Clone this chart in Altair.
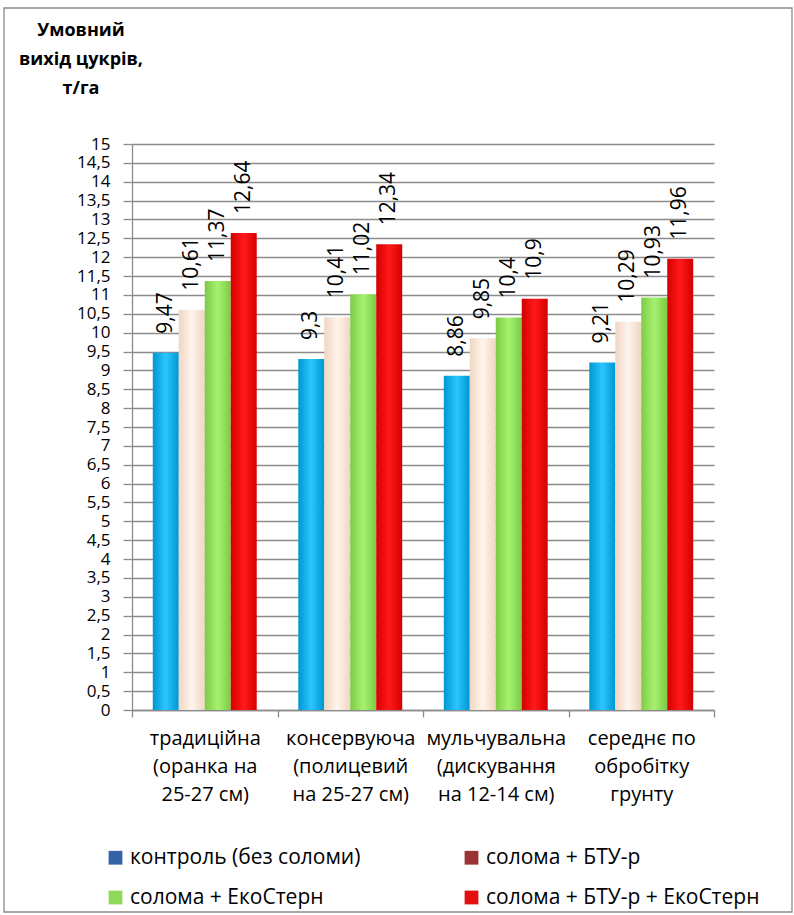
import altair as alt
import pandas as pd

# Tillage systems (x-axis groups), one list of label lines each
categories = [
    ["традиційна", "(оранка на", "25-27 см)"],
    ["консервуюча", "(полицевий", "на 25-27 см)"],
    ["мульчувальна", "(дискування", "на 12-14 см)"],
    ["середнє по", "обробітку", "грунту"],
]

series = [
    "контроль (без соломи)",
    "солома + БТУ-р",
    "солома + ЕкоСтерн",
    "солома + БТУ-р + ЕкоСтерн",
]

# Conditional sugar yield, t/ha
control = [9.47, 9.30, 8.86, 9.21]
straw_btu = [10.61, 10.41, 9.85, 10.29]
straw_eko = [11.37, 11.02, 10.40, 10.93]
straw_btu_eko = [12.64, 12.34, 10.90, 11.96]

y_ticks = [i / 2 for i in range(31)]

cat_keys = ["|".join(c) for c in categories]
rows = []
for s, vals in zip(series, [control, straw_btu, straw_eko, straw_btu_eko]):
    for c, v in zip(cat_keys, vals):
        rows.append({"cat": c, "series": s, "value": v})
df = pd.DataFrame(rows)

# Bar fills (cylinder-like horizontal gradients) and legend swatch colours
bar_stops = {
    series[0]: ["#0096D2", "#2CC6FF", "#0096D2"],
    series[1]: ["#EFD6C2", "#FFF4EC", "#EFD6C2"],
    series[2]: ["#7CCB44", "#A6F270", "#7CCB44"],
    series[3]: ["#D40000", "#FF1A1A", "#D40000"],
}
legend_colors = ["#3563A8", "#9A3434", "#8FD85A", "#E31010"]

W, H = 582, 566
PAD_L, PAD_T = 132, 144

x_enc = alt.X(
    "cat:N",
    sort=cat_keys,
    scale=alt.Scale(paddingInner=0, paddingOuter=0),
    axis=alt.Axis(
        title=None,
        labelAngle=0,
        labelExpr="split(datum.label, '|')",
        labelFont="Open Sans",
        labelFontSize=20,
        labelLineHeight=28,
        labelColor="#000000",
        labelPadding=11,
        tickBand="extent",
        tickSize=7,
        tickColor="#8C8C8C",
        tickWidth=1.3,
        domainColor="#8C8C8C",
        domainWidth=1.3,
        grid=False,
    ),
)
xoff_enc = alt.XOffset(
    "series:N", sort=series, scale=alt.Scale(paddingInner=0, paddingOuter=0.8)
)
y_enc = alt.Y(
    "value:Q",
    scale=alt.Scale(domain=[0, 15], nice=False, zero=True),
    axis=alt.Axis(
        title=None,
        values=y_ticks,
        labelExpr="replace(toString(datum.value), '.', ',')",
        labelFont="Open Sans",
        labelFontSize=17,
        labelColor="#000000",
        labelPadding=13,
        labelOverlap=False,
        tickSize=9,
        tickColor="#8C8C8C",
        tickWidth=1.3,
        domainColor="#8C8C8C",
        domainWidth=1.3,
        grid=True,
        gridColor="#8C8C8C",
        gridWidth=1.3,
    ),
)

base = alt.Chart(df)

# Invisible layer that carries the legend with its own swatch colours
legend_layer = base.mark_square(opacity=0, size=1).encode(
    x=x_enc,
    xOffset=xoff_enc,
    y=y_enc,
    fill=alt.Fill(
        "series:N",
        sort=series,
        scale=alt.Scale(domain=series, range=legend_colors),
        legend=alt.Legend(
            title=None,
            orient="none",
            legendX=-27,
            legendY=703,
            direction="horizontal",
            columns=2,
            columnPadding=100,
            rowPadding=18,
            symbolType="square",
            symbolSize=190,
            symbolOpacity=1,
            symbolStrokeWidth=0,
            labelFont="Open Sans",
            labelFontSize=21,
            labelColor="#000000",
            labelOffset=4,
            labelLimit=400,
        ),
    ),
)

bar_layers = []
for s in series:
    stops = bar_stops[s]
    grad = alt.Gradient(
        gradient="linear",
        x1=0, x2=1, y1=0, y2=0,
        stops=[
            alt.GradientStop(color=stops[0], offset=0),
            alt.GradientStop(color=stops[1], offset=0.5),
            alt.GradientStop(color=stops[2], offset=1),
        ],
    )
    bar_layers.append(
        base.transform_filter(alt.datum.series == s)
        .mark_bar(color=grad)
        .encode(x=x_enc, xOffset=xoff_enc, y=y_enc)
    )

value_labels = (
    base.transform_calculate(lbl="replace(toString(datum.value), '.', ',')")
    .mark_text(
        angle=270,
        align="left",
        baseline="middle",
        dx=19,
        font="Open Sans",
        fontSize=21,
        color="#000000",
    )
    .encode(x=x_enc, xOffset=xoff_enc, y=y_enc, text="lbl:N")
)

one = pd.DataFrame({"k": [0]})

title_text = (
    alt.Chart(one)
    .mark_text(
        text=["Умовний", "вихід цукрів,", "т/га"],
        font="Open Sans",
        fontSize=18,
        fontWeight="bold",
        align="center",
        baseline="middle",
        lineHeight=29,
        color="#000000",
    )
    .encode(x=alt.value(81 - PAD_L), y=alt.value(31 - PAD_T))
)

frame = (
    alt.Chart(one)
    .mark_rect(fillOpacity=0, stroke="#8C8C8C", strokeWidth=1.3)
    .encode(
        x=alt.value(4 - PAD_L),
        x2=alt.value(792 - PAD_L),
        y=alt.value(8 - PAD_T),
        y2=alt.value(912 - PAD_T),
    )
)

chart = (
    alt.layer(frame, legend_layer, *bar_layers, value_labels, title_text)
    .resolve_scale(fill="independent")
    .properties(
        width=W,
        height=H,
        autosize=alt.AutoSizeParams(type="none"),
        padding={"left": PAD_L, "top": PAD_T, "right": 794 - PAD_L - W, "bottom": 915 - PAD_T - H},
        background="#FFFFFF",
    )
    .configure_view(stroke=None)
)

chart.save("out.html", embed_options={"renderer": "svg", "actions": False})
